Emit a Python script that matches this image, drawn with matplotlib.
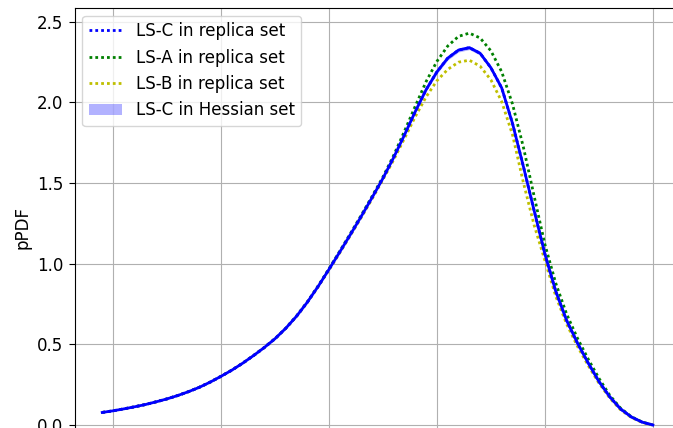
import matplotlib
matplotlib.use("Agg")
import matplotlib.pyplot as plt
import numpy as np

plt.rcParams['font.size'] = 12

# sample points along x
x = np.linspace(-0.1, 5.0, 52)

# pPDF curves
ls_c = [0.078, 0.088, 0.100, 0.113, 0.127, 0.144, 0.162, 0.183, 0.207, 0.234,
        0.266, 0.302, 0.340, 0.383, 0.430, 0.480, 0.535, 0.600, 0.675, 0.762,
        0.860, 0.965, 1.073, 1.183, 1.295, 1.411, 1.530, 1.660, 1.800, 1.945,
        2.080, 2.190, 2.275, 2.325, 2.340, 2.305, 2.215, 2.090, 1.870, 1.605,
        1.330, 1.060, 0.830, 0.650, 0.510, 0.385, 0.270, 0.175, 0.100, 0.050,
        0.018, 0.000]
ls_a = [0.078, 0.088, 0.100, 0.113, 0.127, 0.144, 0.162, 0.183, 0.207, 0.234,
        0.266, 0.302, 0.340, 0.383, 0.430, 0.480, 0.535, 0.600, 0.676, 0.764,
        0.863, 0.969, 1.078, 1.189, 1.302, 1.419, 1.538, 1.673, 1.823, 1.978,
        2.130, 2.255, 2.350, 2.410, 2.430, 2.400, 2.320, 2.190, 1.990, 1.725,
        1.420, 1.120, 0.880, 0.690, 0.540, 0.410, 0.290, 0.185, 0.105, 0.052,
        0.019, 0.000]
ls_b = [0.078, 0.088, 0.100, 0.113, 0.127, 0.144, 0.162, 0.183, 0.207, 0.234,
        0.266, 0.302, 0.340, 0.383, 0.430, 0.480, 0.535, 0.600, 0.674, 0.760,
        0.857, 0.961, 1.068, 1.177, 1.288, 1.403, 1.522, 1.645, 1.778, 1.913,
        2.035, 2.135, 2.205, 2.250, 2.262, 2.225, 2.140, 2.005, 1.800, 1.505,
        1.240, 1.020, 0.800, 0.628, 0.490, 0.370, 0.260, 0.168, 0.095, 0.047,
        0.016, 0.000]
# Hessian uncertainty on LS-C
hess_err = [0.002, 0.002, 0.002, 0.002, 0.002, 0.002, 0.002, 0.002, 0.002, 0.002,
            0.002, 0.003, 0.003, 0.003, 0.003, 0.003, 0.004, 0.004, 0.004, 0.004,
            0.005, 0.005, 0.005, 0.006, 0.006, 0.006, 0.007, 0.008, 0.009, 0.010,
            0.011, 0.012, 0.012, 0.012, 0.012, 0.012, 0.012, 0.011, 0.010, 0.009,
            0.008, 0.007, 0.006, 0.005, 0.004, 0.004, 0.003, 0.003, 0.002, 0.002,
            0.001, 0.000]

ls_c = np.array(ls_c)
hess_err = np.array(hess_err)

fig = plt.figure(figsize=(6.73, 4.28), dpi=100)
ax = fig.add_axes([0.111, -0.042, 0.900, 1.023])

dots = (0, (1, 1.1))
ax.plot(x, ls_c, color='b', ls=dots, lw=2, label='LS-C in replica set', zorder=3)
ax.plot(x, ls_a, color='g', ls=dots, lw=2, label='LS-A in replica set', zorder=2)
ax.plot(x, ls_b, color='y', ls=dots, lw=2, label='LS-B in replica set', zorder=2)
ax.fill_between(x, ls_c - hess_err, ls_c + hess_err, color='b', alpha=0.3,
                lw=0, label='LS-C in Hessian set', zorder=3)
ax.plot(x, ls_c, color='b', lw=2, zorder=4)

ax.set_xlim(-0.355, 5.255)
ax.set_ylim(-0.13, 2.585)
ax.set_xticks([0, 1, 2, 3, 4, 5])
ax.set_yticks([0.0, 0.5, 1.0, 1.5, 2.0, 2.5])
ax.tick_params(labelbottom=False, length=4.5)
ax.set_ylabel('pPDF')
ax.grid(True)
ax.legend(loc='upper left', borderaxespad=0.45)

fig.savefig('out.png', dpi=100)
